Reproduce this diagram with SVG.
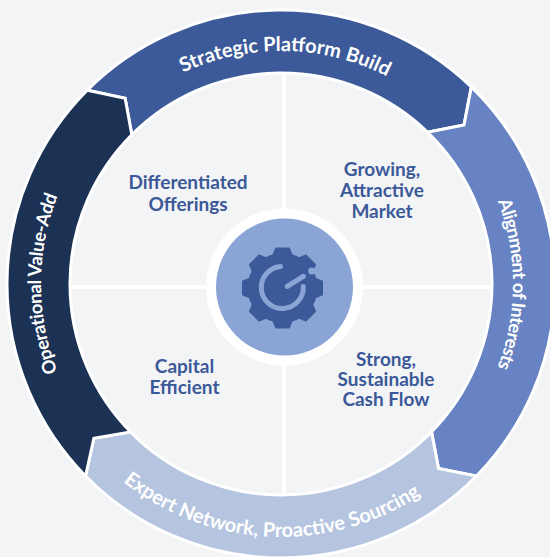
<svg xmlns="http://www.w3.org/2000/svg" width="550" height="557" viewBox="0 0 550 557">
<style>
.band{stroke:#ffffff;stroke-width:3;stroke-linejoin:miter}
.bt{font-family:Lato,"Open Sans","Liberation Sans",sans-serif;font-weight:bold;font-size:20px;fill:#ffffff}
.qt{font-family:Lato,"Open Sans","Liberation Sans",sans-serif;font-weight:bold;font-size:19px;fill:#3b5998;text-anchor:middle}
.div{stroke:#ffffff;stroke-width:4}
</style>
<defs>
<path id="pTop" d="M 48 284 A 233 233 0 0 1 514 284"/>
<path id="pRight" d="M 281 52 A 232 232 0 0 1 281 516"/>
<path id="pLeft" d="M 281 524 A 240 240 0 0 1 281 44"/>
<path id="pBottom" d="M 28 284 A 253 253 0 0 0 534 284"/>
</defs>
<rect width="550" height="557" fill="#f3f4f6"/>
<g id="dividers">
<line class="div" x1="284" y1="68" x2="284" y2="500"/>
<line class="div" x1="66" y1="287" x2="496" y2="287"/>
</g>
<g id="band-top">
<path class="band" fill="#3c5a99" d="M 87.25 90.25 A 274 274 0 0 1 471.34 86.90 L 464.02 124.91 L 427.57 132.22 A 211 211 0 0 0 131.80 134.80 L 125.12 98.24 Z"/>
<text class="bt"><textPath href="#pTop" startOffset="50.6%" text-anchor="middle">Strategic Platform Build</textPath></text>
</g>
<g id="band-right">
<path class="band" fill="#6783c3" d="M 471.34 86.90 A 274 274 0 0 1 476.43 476.05 L 438.49 468.40 L 431.50 431.89 A 211 211 0 0 0 427.57 132.22 L 464.02 124.91 Z"/>
<text class="bt" style="font-size:18.5px;letter-spacing:-0.6px"><textPath href="#pRight" startOffset="50%" text-anchor="middle">Alignment of Interests</textPath></text>
</g>
<g id="band-bottom">
<path class="band" fill="#b5c4df" d="M 476.43 476.05 A 274 274 0 0 1 85.57 476.05 L 93.88 438.25 L 130.50 431.89 A 211 211 0 0 0 431.50 431.89 L 438.49 468.40 Z"/>
<text class="bt"><textPath href="#pBottom" startOffset="48.6%" text-anchor="middle">Expert Network, Proactive Sourcing</textPath></text>
</g>
<g id="band-left">
<path class="band" fill="#1b3255" d="M 85.57 476.05 A 274 274 0 0 1 87.25 90.25 L 125.12 98.24 L 131.80 134.80 A 211 211 0 0 0 130.50 431.89 L 93.88 438.25 Z"/>
<text class="bt" style="font-size:18.5px;letter-spacing:-0.4px"><textPath href="#pLeft" startOffset="50%" text-anchor="middle">Operational Value-Add</textPath></text>
</g>
<g id="q-differentiated">
<text class="qt" x="188" y="189">Differentiated</text>
<text class="qt" x="188" y="210.5">Offerings</text>
</g>
<g id="q-growing">
<text class="qt" x="382" y="176">Growing,</text>
<text class="qt" x="382" y="197">Attractive</text>
<text class="qt" x="382" y="218">Market</text>
</g>
<g id="q-capital">
<text class="qt" x="184.5" y="373">Capital</text>
<text class="qt" x="184.5" y="393.5">Efficient</text>
</g>
<g id="q-strong">
<text class="qt" x="386" y="366">Strong,</text>
<text class="qt" x="386" y="386">Sustainable</text>
<text class="qt" x="386" y="406">Cash Flow</text>
</g>
<g id="center">
<circle cx="284.5" cy="287" r="78.5" fill="#ffffff"/>
<circle cx="284.5" cy="287" r="68.5" fill="#8aa5d5"/>
<g transform="translate(282.5 288)" fill="#3c5a9a" stroke="#3c5a9a" stroke-width="2" stroke-linejoin="round">
<circle r="34"/>
<polygon points="-9.5,-32 -6.5,-39.5 6.5,-39.5 9.5,-32"/>
<polygon points="-9.5,-32 -6.5,-39.5 6.5,-39.5 9.5,-32" transform="rotate(45)"/>
<polygon points="-9.5,-32 -6.5,-39.5 6.5,-39.5 9.5,-32" transform="rotate(90)"/>
<polygon points="-9.5,-32 -6.5,-39.5 6.5,-39.5 9.5,-32" transform="rotate(135)"/>
<polygon points="-9.5,-32 -6.5,-39.5 6.5,-39.5 9.5,-32" transform="rotate(180)"/>
<polygon points="-9.5,-32 -6.5,-39.5 6.5,-39.5 9.5,-32" transform="rotate(225)"/>
<polygon points="-9.5,-32 -6.5,-39.5 6.5,-39.5 9.5,-32" transform="rotate(270)"/>
<polygon points="-9.5,-32 -6.5,-39.5 6.5,-39.5 9.5,-32" transform="rotate(315)"/>
</g>
<path d="M 303.27 286.40 A 21 21 0 1 1 280.47 266.58" fill="none" stroke="#8aa5d5" stroke-width="5" stroke-linecap="round"/>
<line x1="287.3" y1="286.3" x2="303.3" y2="276.3" stroke="#8aa5d5" stroke-width="5" stroke-linecap="round"/>
<circle cx="311.7" cy="271" r="3.5" fill="#8aa5d5"/>
</g>
</svg>
